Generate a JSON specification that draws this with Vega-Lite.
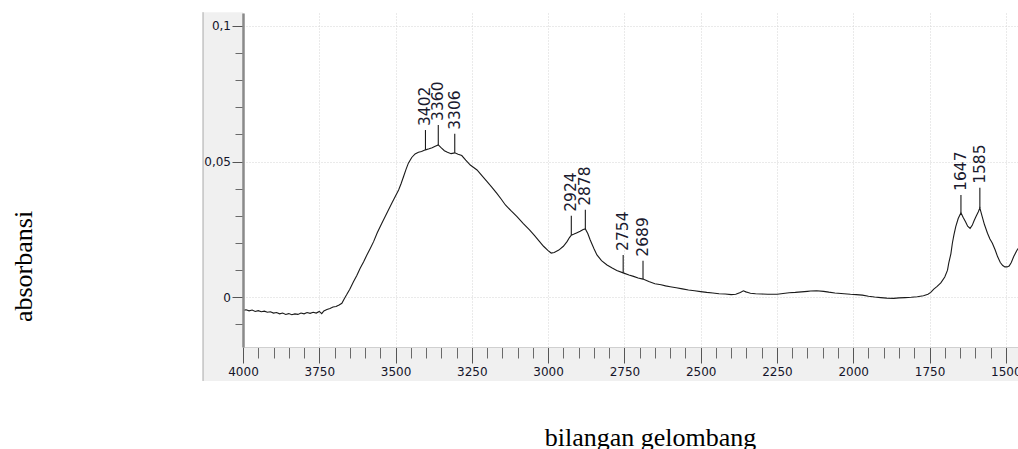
{
  "$schema": "https://vega.github.io/schema/vega-lite/v6.json",
  "width": 775,
  "height": 334,
  "autosize": {"type": "none"},
  "padding": {"left": 243, "top": 13, "right": 0, "bottom": 102},
  "background": "white",
  "config": {
    "view": {"stroke": null, "fill": "white"},
    "axis": {"labelFont": "DejaVu Sans", "labelFontSize": 12, "labelColor": "#14142a", "titleFont": "Liberation Serif", "titleFontSize": 26, "titleFontWeight": "normal", "titleColor": "#000000"}
  },
  "datasets": {
    "frame": [
      {"x1": 4131, "x2": 4000, "y1": -0.0308, "y2": 0.105},
      {"x1": 4131, "x2": 1460, "y1": -0.0308, "y2": -0.0183}
    ],
    "border": [{"x": 4131, "y1": -0.0308, "y2": 0.105}],
    "spectrum": [
      {"w": 4000, "a": -0.0048}, {"w": 3990, "a": -0.0046}, {"w": 3980, "a": -0.0050}, {"w": 3970, "a": -0.0047},
      {"w": 3960, "a": -0.0052}, {"w": 3950, "a": -0.0049}, {"w": 3940, "a": -0.0053}, {"w": 3930, "a": -0.0051},
      {"w": 3920, "a": -0.0055}, {"w": 3910, "a": -0.0053}, {"w": 3900, "a": -0.0058}, {"w": 3890, "a": -0.0056},
      {"w": 3880, "a": -0.0061}, {"w": 3870, "a": -0.0058}, {"w": 3860, "a": -0.0063}, {"w": 3850, "a": -0.0060},
      {"w": 3840, "a": -0.0064}, {"w": 3830, "a": -0.0061}, {"w": 3820, "a": -0.0063}, {"w": 3810, "a": -0.0058},
      {"w": 3800, "a": -0.0061}, {"w": 3790, "a": -0.0056}, {"w": 3780, "a": -0.0059}, {"w": 3770, "a": -0.0055},
      {"w": 3760, "a": -0.0058}, {"w": 3750, "a": -0.0052}, {"w": 3742, "a": -0.0060}, {"w": 3735, "a": -0.0050},
      {"w": 3725, "a": -0.0045}, {"w": 3715, "a": -0.0041}, {"w": 3705, "a": -0.0036}, {"w": 3695, "a": -0.0034},
      {"w": 3685, "a": -0.0028}, {"w": 3676, "a": -0.0022}, {"w": 3668, "a": -0.0005}, {"w": 3660, "a": 0.0010},
      {"w": 3650, "a": 0.0030}, {"w": 3638, "a": 0.0057}, {"w": 3627, "a": 0.0080}, {"w": 3616, "a": 0.0107},
      {"w": 3605, "a": 0.0130}, {"w": 3594, "a": 0.0156}, {"w": 3583, "a": 0.0180}, {"w": 3572, "a": 0.0205},
      {"w": 3560, "a": 0.0238}, {"w": 3545, "a": 0.0273}, {"w": 3534, "a": 0.0298}, {"w": 3523, "a": 0.0322},
      {"w": 3512, "a": 0.0347}, {"w": 3501, "a": 0.0371}, {"w": 3490, "a": 0.0395}, {"w": 3482, "a": 0.0418},
      {"w": 3474, "a": 0.0444}, {"w": 3466, "a": 0.0470}, {"w": 3458, "a": 0.0494}, {"w": 3447, "a": 0.0515},
      {"w": 3436, "a": 0.0528}, {"w": 3425, "a": 0.0534}, {"w": 3415, "a": 0.0537}, {"w": 3402, "a": 0.0543},
      {"w": 3390, "a": 0.0547}, {"w": 3380, "a": 0.0551}, {"w": 3370, "a": 0.0556}, {"w": 3360, "a": 0.0561},
      {"w": 3350, "a": 0.0550}, {"w": 3340, "a": 0.0540}, {"w": 3330, "a": 0.0534}, {"w": 3318, "a": 0.0529},
      {"w": 3306, "a": 0.0532}, {"w": 3295, "a": 0.0527}, {"w": 3283, "a": 0.0522}, {"w": 3270, "a": 0.0505},
      {"w": 3255, "a": 0.0487}, {"w": 3244, "a": 0.0478}, {"w": 3233, "a": 0.0469}, {"w": 3217, "a": 0.0448},
      {"w": 3200, "a": 0.0426}, {"w": 3184, "a": 0.0405}, {"w": 3168, "a": 0.0383}, {"w": 3154, "a": 0.0362},
      {"w": 3140, "a": 0.0340}, {"w": 3121, "a": 0.0318}, {"w": 3102, "a": 0.0297}, {"w": 3082, "a": 0.0272},
      {"w": 3061, "a": 0.0248}, {"w": 3045, "a": 0.0228}, {"w": 3030, "a": 0.0208}, {"w": 3015, "a": 0.0188},
      {"w": 3000, "a": 0.0172}, {"w": 2990, "a": 0.0163}, {"w": 2980, "a": 0.0165}, {"w": 2965, "a": 0.0174},
      {"w": 2950, "a": 0.0188}, {"w": 2938, "a": 0.0205}, {"w": 2930, "a": 0.0220}, {"w": 2924, "a": 0.0229},
      {"w": 2915, "a": 0.0233}, {"w": 2907, "a": 0.0237}, {"w": 2895, "a": 0.0243}, {"w": 2885, "a": 0.0250},
      {"w": 2878, "a": 0.0252}, {"w": 2870, "a": 0.0235}, {"w": 2862, "a": 0.0211}, {"w": 2850, "a": 0.0180},
      {"w": 2840, "a": 0.0156}, {"w": 2825, "a": 0.0135}, {"w": 2807, "a": 0.0119}, {"w": 2790, "a": 0.0108},
      {"w": 2775, "a": 0.0099}, {"w": 2754, "a": 0.0090}, {"w": 2735, "a": 0.0082}, {"w": 2720, "a": 0.0077},
      {"w": 2705, "a": 0.0071}, {"w": 2689, "a": 0.0067}, {"w": 2670, "a": 0.0058}, {"w": 2650, "a": 0.0050},
      {"w": 2630, "a": 0.0046}, {"w": 2615, "a": 0.0042}, {"w": 2600, "a": 0.0039}, {"w": 2580, "a": 0.0035},
      {"w": 2560, "a": 0.0031}, {"w": 2540, "a": 0.0027}, {"w": 2520, "a": 0.0024}, {"w": 2500, "a": 0.0021},
      {"w": 2480, "a": 0.0018}, {"w": 2460, "a": 0.0016}, {"w": 2440, "a": 0.0013}, {"w": 2420, "a": 0.0012},
      {"w": 2400, "a": 0.0010}, {"w": 2385, "a": 0.0011}, {"w": 2370, "a": 0.0018}, {"w": 2360, "a": 0.0024},
      {"w": 2352, "a": 0.0020}, {"w": 2345, "a": 0.0018}, {"w": 2337, "a": 0.0015}, {"w": 2320, "a": 0.0013},
      {"w": 2300, "a": 0.0012}, {"w": 2280, "a": 0.0011}, {"w": 2260, "a": 0.0011}, {"w": 2249, "a": 0.0011},
      {"w": 2230, "a": 0.0014}, {"w": 2210, "a": 0.0017}, {"w": 2190, "a": 0.0018}, {"w": 2170, "a": 0.0020},
      {"w": 2150, "a": 0.0022}, {"w": 2140, "a": 0.0023}, {"w": 2120, "a": 0.0024}, {"w": 2097, "a": 0.0022},
      {"w": 2080, "a": 0.0019}, {"w": 2060, "a": 0.0016}, {"w": 2040, "a": 0.0014}, {"w": 2020, "a": 0.0012},
      {"w": 2009, "a": 0.0011}, {"w": 1990, "a": 0.0010}, {"w": 1970, "a": 0.0008}, {"w": 1950, "a": 0.0004},
      {"w": 1930, "a": 0.0001}, {"w": 1910, "a": -0.0001}, {"w": 1890, "a": -0.0003}, {"w": 1867, "a": -0.0004},
      {"w": 1850, "a": -0.0002}, {"w": 1830, "a": -0.0001}, {"w": 1810, "a": 0.0000}, {"w": 1790, "a": 0.0002},
      {"w": 1770, "a": 0.0006}, {"w": 1755, "a": 0.0011}, {"w": 1746, "a": 0.0018}, {"w": 1736, "a": 0.0030},
      {"w": 1725, "a": 0.0040}, {"w": 1713, "a": 0.0053}, {"w": 1700, "a": 0.0075}, {"w": 1691, "a": 0.0100},
      {"w": 1687, "a": 0.0126}, {"w": 1680, "a": 0.0160}, {"w": 1675, "a": 0.0200}, {"w": 1670, "a": 0.0230},
      {"w": 1664, "a": 0.0260}, {"w": 1656, "a": 0.0290}, {"w": 1647, "a": 0.0311}, {"w": 1640, "a": 0.0295},
      {"w": 1632, "a": 0.0278}, {"w": 1625, "a": 0.0262}, {"w": 1617, "a": 0.0254}, {"w": 1610, "a": 0.0265},
      {"w": 1604, "a": 0.0282}, {"w": 1598, "a": 0.0297}, {"w": 1590, "a": 0.0315}, {"w": 1585, "a": 0.0329},
      {"w": 1578, "a": 0.0300}, {"w": 1570, "a": 0.0268}, {"w": 1560, "a": 0.0236}, {"w": 1552, "a": 0.0215},
      {"w": 1544, "a": 0.0199}, {"w": 1535, "a": 0.0175}, {"w": 1527, "a": 0.0150}, {"w": 1518, "a": 0.0128},
      {"w": 1510, "a": 0.0117}, {"w": 1503, "a": 0.0112}, {"w": 1496, "a": 0.0112}, {"w": 1489, "a": 0.0115},
      {"w": 1482, "a": 0.0128}, {"w": 1474, "a": 0.0150}, {"w": 1466, "a": 0.0168}, {"w": 1460, "a": 0.0180}
    ],
    "peaks": [
      {"w": 3402, "a": 0.0543, "top": 0.0616, "label": "3402"},
      {"w": 3360, "a": 0.0561, "top": 0.0635, "label": "3360"},
      {"w": 3306, "a": 0.0532, "top": 0.0602, "label": "3306"},
      {"w": 2924, "a": 0.0229, "top": 0.0300, "label": "2924"},
      {"w": 2878, "a": 0.0252, "top": 0.0322, "label": "2878"},
      {"w": 2754, "a": 0.0090, "top": 0.0156, "label": "2754"},
      {"w": 2689, "a": 0.0067, "top": 0.0135, "label": "2689"},
      {"w": 1647, "a": 0.0311, "top": 0.0377, "label": "1647"},
      {"w": 1585, "a": 0.0329, "top": 0.0403, "label": "1585"}
    ]
  },
  "resolve": {"axis": {"x": "independent", "y": "independent"}},
  "layer": [
    {
      "data": {"name": "frame"},
      "mark": {"type": "rect", "fill": "#f0f0f0", "clip": false},
      "encoding": {
        "x": {"field": "x1", "type": "quantitative",
          "scale": {"domain": [1460, 4000], "reverse": true, "nice": false, "zero": false},
          "axis": {"orient": "bottom", "values": [1500, 1750, 2000, 2250, 2500, 2750, 3000, 3250, 3500, 3750, 4000], "grid": true, "gridColor": "#d4d4d4", "gridDash": [1, 2], "gridWidth": 1, "ticks": false, "labels": false, "domain": false, "title": null, "zindex": 0}},
        "x2": {"field": "x2"},
        "y": {"field": "y1", "type": "quantitative",
          "scale": {"domain": [-0.0183, 0.1047], "nice": false, "zero": false},
          "axis": {"orient": "left", "values": [0, 0.05, 0.1], "grid": true, "gridColor": "#d4d4d4", "gridDash": [1, 2], "gridWidth": 1, "ticks": false, "labels": false, "domain": false, "title": null, "zindex": 0}},
        "y2": {"field": "y2"}
      }
    },
    {
      "data": {"name": "border"},
      "mark": {"type": "rule", "color": "#a8a8a8", "strokeWidth": 1, "clip": false},
      "encoding": {
        "x": {"field": "x", "type": "quantitative", "axis": null},
        "y": {"field": "y1", "type": "quantitative", "axis": null},
        "y2": {"field": "y2"}
      }
    },
    {
      "data": {"name": "spectrum"},
      "mark": {"type": "line", "color": "#1a1a1a", "strokeWidth": 1.1, "clip": true},
      "encoding": {
        "x": {"field": "w", "type": "quantitative", "sort": null,
          "axis": {"orient": "bottom", "values": [1500, 1550, 1600, 1650, 1700, 1750, 1800, 1850, 1900, 1950, 2000, 2050, 2100, 2150, 2200, 2250, 2300, 2350, 2400, 2450, 2500, 2550, 2600, 2650, 2700, 2750, 2800, 2850, 2900, 2950, 3000, 3050, 3100, 3150, 3200, 3250, 3300, 3350, 3400, 3450, 3500, 3550, 3600, 3650, 3700, 3750, 3800, 3850, 3900, 3950, 4000], "grid": false, "ticks": true, "tickSize": 11, "tickColor": "#6a6a6a", "tickWidth": 1, "labels": false, "domain": false, "title": null, "zindex": 1}},
        "y": {"field": "a", "type": "quantitative",
          "axis": {"orient": "left", "values": [-0.01, 0.01, 0.02, 0.03, 0.04, 0.06, 0.07, 0.08, 0.09], "grid": false, "ticks": true, "tickSize": 8, "tickColor": "#6a6a6a", "tickWidth": 1, "labels": false, "domain": false, "title": null, "zindex": 1}},
        "order": {"field": "w", "type": "quantitative", "sort": "descending"}
      }
    },
    {
      "data": {"name": "peaks"},
      "mark": {"type": "rule", "color": "#1a1a1a", "strokeWidth": 1.1},
      "encoding": {
        "x": {"field": "w", "type": "quantitative",
          "axis": {"orient": "bottom", "values": [1500, 1750, 2000, 2250, 2500, 2750, 3000, 3250, 3500, 3750, 4000], "format": "d", "grid": false, "ticks": true, "tickSize": 16, "tickColor": "#555555", "tickWidth": 1, "labels": true, "labelPadding": 3, "labelBaseline": "top", "labelFlush": false, "labelOverlap": false, "domain": true, "domainColor": "#d0d0d0", "domainWidth": 1, "title": "bilangan gelombang", "titleX": 407, "titleY": 98, "titleAlign": "center", "titleBaseline": "alphabetic", "zindex": 1}},
        "y": {"field": "a", "type": "quantitative",
          "axis": {"orient": "left", "values": [0, 0.05, 0.1], "grid": false, "ticks": true, "tickSize": 11, "tickColor": "#555555", "tickWidth": 1, "labels": true, "labelPadding": 1.5, "labelExpr": "replace(format(datum.value, '~g'), '.', ',')", "labelFlush": false, "labelOverlap": false, "domain": true, "domainColor": "#8a8a8a", "domainWidth": 2.5, "title": "absorbansi", "titleX": -212, "titleY": 253, "titleAngle": -90, "titleAlign": "center", "titleBaseline": "alphabetic", "zindex": 1}},
        "y2": {"field": "top"}
      }
    },
    {
      "data": {"name": "peaks"},
      "mark": {"type": "text", "angle": 270, "align": "left", "baseline": "middle", "dx": 4, "font": "DejaVu Sans", "fontSize": 15.5, "color": "#1a1a2e"},
      "encoding": {
        "x": {"field": "w", "type": "quantitative", "axis": null},
        "y": {"field": "top", "type": "quantitative", "axis": null},
        "text": {"field": "label"}
      }
    }
  ]
}
